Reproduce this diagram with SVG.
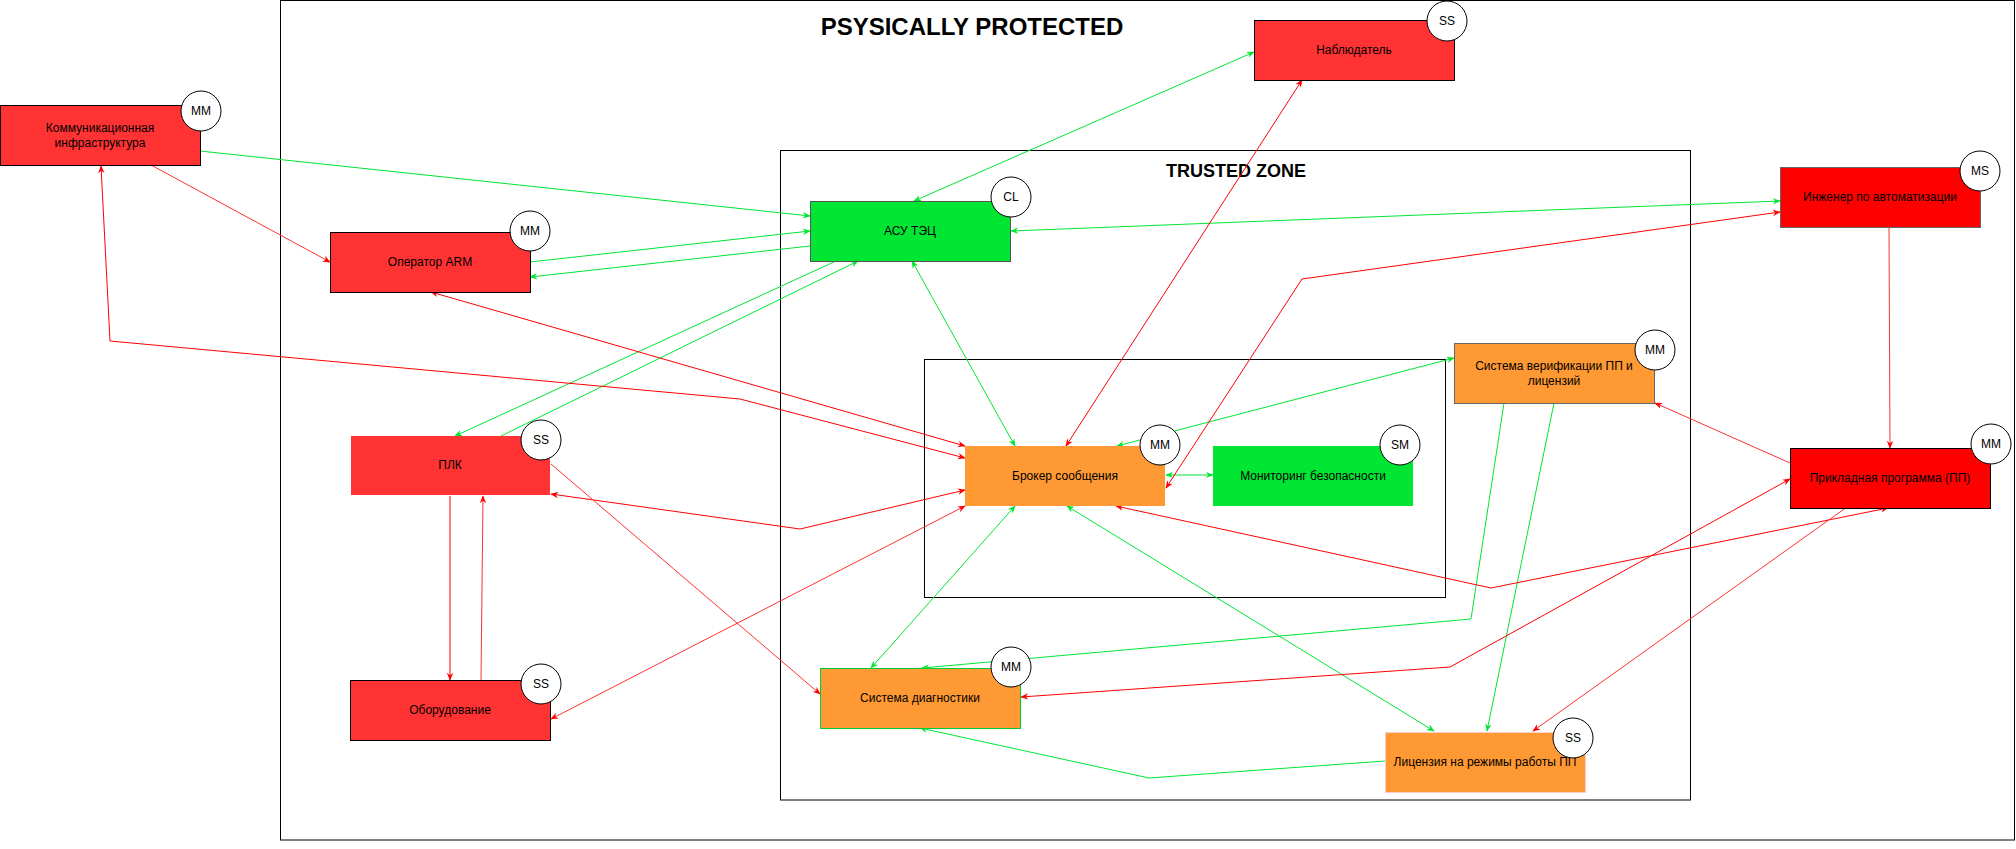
<svg xmlns="http://www.w3.org/2000/svg" width="2016" height="849" viewBox="0 0 2016 849">
<style>
text{font-family:"Liberation Sans",Arial,Helvetica,sans-serif;fill:#000}
.lbl{font-size:12px;text-anchor:middle;dominant-baseline:central}
.zone{fill:none;stroke:#000;stroke-width:1}
.badge{fill:#fff;stroke:#000;stroke-width:1}
.g{fill:none;stroke:#00E633;stroke-width:1}
.r{fill:none;stroke:#FF0000;stroke-width:1}
.rl{fill:none;stroke:#FF3333;stroke-width:1}
.ge{marker-end:url(#mg)}
.gb{marker-start:url(#mg);marker-end:url(#mg)}
.re{marker-end:url(#mr)}
.rb{marker-start:url(#mr);marker-end:url(#mr)}
</style>
<defs>
<marker id="mg" viewBox="0 0 10 10" refX="9" refY="5" markerWidth="8" markerHeight="8" markerUnits="userSpaceOnUse" orient="auto-start-reverse"><path d="M0,1 L10,5 L0,9 L3,5 z" fill="#00E633"/></marker>
<marker id="mr" viewBox="0 0 10 10" refX="9" refY="5" markerWidth="8" markerHeight="8" markerUnits="userSpaceOnUse" orient="auto-start-reverse"><path d="M0,1 L10,5 L0,9 L3,5 z" fill="#FF0000"/></marker>
</defs>
<rect x="0" y="0" width="2016" height="849" fill="#fff"/>
<g id="zones">
<rect class="zone" x="280.5" y="0.5" width="1734" height="839.5"/>
<text x="972" y="35" font-size="24" font-weight="bold" text-anchor="middle">PSYSICALLY PROTECTED</text>
<rect class="zone" x="780.5" y="150.5" width="910" height="649.5"/>
<text x="1236" y="177" font-size="18" font-weight="bold" text-anchor="middle">TRUSTED ZONE</text>
<rect class="zone" x="924.5" y="359.5" width="521" height="238"/>
</g>
<g id="connectors">
<path class="g ge" d="M200,151 L810,216"/>
<path class="g ge" d="M530,262 L810,231"/>
<path class="g ge" d="M810,246 L530,277"/>
<path class="g ge" d="M836,261 L455,436"/>
<path class="g ge" d="M501,436 L858,261"/>
<path class="g gb" d="M914,201 L1254,52"/>
<path class="g gb" d="M1011,231 L1780,201"/>
<path class="g gb" d="M912,261 L1015,446"/>
<path class="g gb" d="M1117,446 L1454,358"/>
<path class="g gb" d="M1166,475 L1213,475"/>
<path class="g gb" d="M1015,506 L871,668"/>
<path class="g gb" d="M1067,506 L1434,731"/>
<path class="g ge" d="M1504,403 L1471,619 L922,668"/>
<path class="g ge" d="M1554,403 L1487,731"/>
<path class="g ge" d="M1385,761 L1149,778 L920,728"/>
<path class="rl re" d="M151,165 L330,262"/>
<path class="r rb" d="M101,166 L110,341 L740,399 L965,458"/>
<path class="r rb" d="M431,292 L965,446"/>
<path class="r rb" d="M551,494 L800,529 L965,490"/>
<path class="rl re" d="M551,464 L820,694"/>
<path class="rl rb" d="M551,719 L965,506"/>
<path class="r re" d="M450,496 L450,680"/>
<path class="rl re" d="M481,680 L483,496"/>
<path class="r rb" d="M1066,446 L1302,80"/>
<path class="r rb" d="M1780,212 L1302,279 L1166,488"/>
<path class="rl re" d="M1889,227 L1890,448"/>
<path class="rl re" d="M1790,463 L1655,403"/>
<path class="r rb" d="M1888,508 L1491,588 L1116,506"/>
<path class="r rb" d="M1790,479 L1450,667 L1021,697"/>
<path class="rl re" d="M1847,507 L1533,731"/>
</g>
<g id="n-comm">
<rect x="0.5" y="105.5" width="200" height="60" fill="#FF3333" stroke="#000"/>
<text class="lbl" x="100" y="128">Коммуникационная</text>
<text class="lbl" x="100" y="143">инфраструктура</text>
<circle class="badge" cx="201" cy="111" r="20"/>
<text class="lbl" x="201" y="111">MM</text>
</g>
<g id="n-oper">
<rect x="330.5" y="232.5" width="200" height="60" fill="#FF3333" stroke="#000"/>
<text class="lbl" x="430" y="262">Оператор ARM</text>
<circle class="badge" cx="530" cy="231" r="20"/>
<text class="lbl" x="530" y="231">MM</text>
</g>
<g id="n-asu">
<rect x="810.5" y="201.5" width="200" height="60" fill="#00E633" stroke="#555"/>
<text class="lbl" x="910" y="231">АСУ ТЭЦ</text>
<circle class="badge" cx="1011" cy="197" r="20"/>
<text class="lbl" x="1011" y="197">CL</text>
</g>
<g id="n-obs">
<rect x="1254.5" y="20.5" width="200" height="60" fill="#FF3333" stroke="#000"/>
<text class="lbl" x="1354" y="50">Наблюдатель</text>
<circle class="badge" cx="1447" cy="21" r="20"/>
<text class="lbl" x="1447" y="21">SS</text>
</g>
<g id="n-eng">
<rect x="1780.5" y="167.5" width="200" height="60" fill="#FF0000" stroke="#666"/>
<text class="lbl" x="1880" y="197">Инженер по автоматизации</text>
<circle class="badge" cx="1980" cy="171" r="20"/>
<text class="lbl" x="1980" y="171">MS</text>
</g>
<g id="n-plc">
<rect x="351" y="436" width="199" height="59" fill="#FF3333"/>
<text class="lbl" x="450" y="465">ПЛК</text>
<circle class="badge" cx="541" cy="440" r="20"/>
<text class="lbl" x="541" y="440">SS</text>
</g>
<g id="n-equip">
<rect x="350.5" y="680.5" width="200" height="60" fill="#FF3333" stroke="#000"/>
<text class="lbl" x="450" y="710">Оборудование</text>
<circle class="badge" cx="541" cy="684" r="20"/>
<text class="lbl" x="541" y="684">SS</text>
</g>
<g id="n-broker">
<rect x="965" y="446" width="200" height="60" fill="#FF9933"/>
<text class="lbl" x="1065" y="476">Брокер сообщения</text>
<circle class="badge" cx="1160" cy="445" r="20"/>
<text class="lbl" x="1160" y="445">MM</text>
</g>
<g id="n-mon">
<rect x="1213" y="446" width="200" height="60" fill="#00E633"/>
<text class="lbl" x="1313" y="476">Мониторинг безопасности</text>
<circle class="badge" cx="1400" cy="445" r="20"/>
<text class="lbl" x="1400" y="445">SM</text>
</g>
<g id="n-verif">
<rect x="1454.5" y="343.5" width="200" height="60" fill="#FF9933" stroke="#666"/>
<text class="lbl" x="1554" y="366">Система верификации ПП и</text>
<text class="lbl" x="1554" y="381">лицензий</text>
<circle class="badge" cx="1655" cy="350" r="20"/>
<text class="lbl" x="1655" y="350">MM</text>
</g>
<g id="n-app">
<rect x="1790.5" y="448.5" width="200" height="60" fill="#FF0000" stroke="#000"/>
<text class="lbl" x="1890" y="478">Прикладная программа (ПП)</text>
<circle class="badge" cx="1991" cy="444" r="20"/>
<text class="lbl" x="1991" y="444">MM</text>
</g>
<g id="n-diag">
<rect x="820.5" y="668.5" width="200" height="60" fill="#FF9933" stroke="#00CC33"/>
<text class="lbl" x="920" y="698">Система диагностики</text>
<circle class="badge" cx="1011" cy="667" r="20"/>
<text class="lbl" x="1011" y="667">MM</text>
</g>
<g id="n-lic">
<rect x="1385.5" y="732.5" width="200" height="60" fill="#FF9933" stroke="#FFCCCC"/>
<text class="lbl" x="1485" y="762">Лицензия на режимы работы ПП</text>
<circle class="badge" cx="1573" cy="738" r="20"/>
<text class="lbl" x="1573" y="738">SS</text>
</g>
</svg>
